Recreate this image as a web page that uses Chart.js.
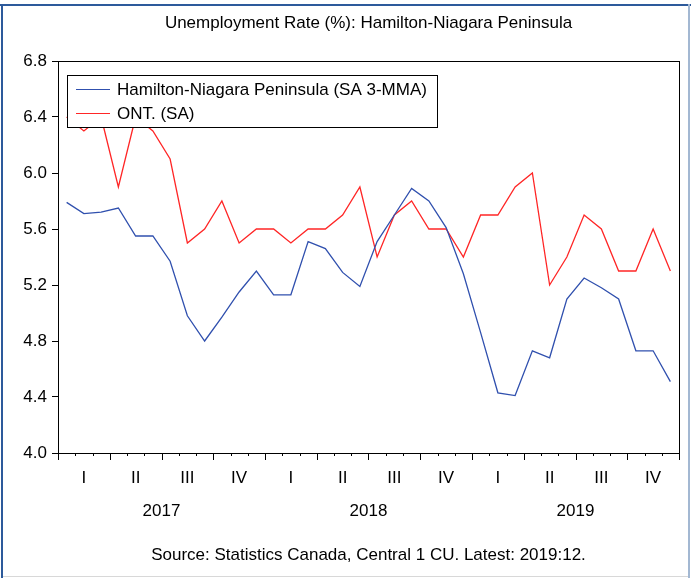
<!DOCTYPE html>
<html>
<head>
<meta charset="utf-8">
<script src="https://cdn.jsdelivr.net/npm/chart.js@4.4.1/dist/chart.umd.min.js"></script>
<style>
  html, body { margin: 0; padding: 0; background: #fff; }
</style>
</head>
<body>
<canvas id="myChart" width="691" height="578"></canvas>
<script>
// monthly observations, 2017:01 - 2019:12
var months = [
  "2017:01", "2017:02", "2017:03", "2017:04", "2017:05", "2017:06",
  "2017:07", "2017:08", "2017:09", "2017:10", "2017:11", "2017:12",
  "2018:01", "2018:02", "2018:03", "2018:04", "2018:05", "2018:06",
  "2018:07", "2018:08", "2018:09", "2018:10", "2018:11", "2018:12",
  "2019:01", "2019:02", "2019:03", "2019:04", "2019:05", "2019:06",
  "2019:07", "2019:08", "2019:09", "2019:10", "2019:11", "2019:12"
];
var quarterLabels = ["I", "II", "III", "IV"];
var yearLabels = ["2017", "2018", "2019"];
var yTicks = [4.0, 4.4, 4.8, 5.2, 5.6, 6.0, 6.4, 6.8];

var hamilton = [
  5.79, 5.71, 5.72, 5.75, 5.55, 5.55, 5.37, 4.98, 4.80, 4.97, 5.15, 5.30,
  5.13, 5.13, 5.51, 5.46, 5.29, 5.19, 5.51, 5.70, 5.89, 5.80, 5.61, 5.28,
  4.86, 4.43, 4.41, 4.73, 4.68, 5.10, 5.25, 5.18, 5.10, 4.73, 4.73, 4.51
];
var ontario = [
  6.4, 6.3, 6.4, 5.9, 6.4, 6.3, 6.1, 5.5, 5.6, 5.8, 5.5, 5.6,
  5.6, 5.5, 5.6, 5.6, 5.7, 5.9, 5.4, 5.7, 5.8, 5.6, 5.6, 5.4,
  5.7, 5.7, 5.9, 6.0, 5.2, 5.4, 5.7, 5.6, 5.3, 5.3, 5.6, 5.3
];

var titleText = "Unemployment Rate (%): Hamilton-Niagara Peninsula";
var sourceText = "Source: Statistics Canada, Central 1 CU. Latest: 2019:12.";
var fontFamily = "'Liberation Sans', Arial, sans-serif";

// frame, box, quarter/year axis, legend and texts
var extras = {
  id: "extras",
  beforeDraw: function (chart) {
    var ctx = chart.ctx;
    ctx.save();
    ctx.fillStyle = "#fff";
    ctx.fillRect(0, 0, chart.width, chart.height);
    ctx.fillStyle = "#2d5a9b";
    ctx.fillRect(0, 4, chart.width, 2);
    ctx.fillRect(1, 4, 2, chart.height - 4);
    ctx.fillStyle = "#a3b8d2";
    ctx.fillRect(688, 4, 2, chart.height - 4);
    ctx.fillStyle = "#d8d8d8";
    ctx.fillRect(3, chart.height - 2, 685, 1);
    ctx.restore();
  },
  afterDraw: function (chart) {
    var ctx = chart.ctx;
    var area = chart.chartArea;
    var x = chart.scales.x;
    var step = x.getPixelForValue(1) - x.getPixelForValue(0);
    var midX = (area.left + area.right) / 2;
    ctx.save();

    // plot box
    ctx.strokeStyle = "#000";
    ctx.lineWidth = 1;
    ctx.strokeRect(Math.round(area.left) + 0.5, Math.round(area.top) + 0.5,
      Math.round(area.right - area.left), Math.round(area.bottom - area.top));

    // month ticks, longer at quarter boundaries
    ctx.beginPath();
    for (var i = 0; i <= months.length; i++) {
      var px = Math.round(x.getPixelForValue(i) - step / 2) + 0.5;
      var len = i % 3 === 0 ? 7 : 3;
      ctx.moveTo(px, area.bottom);
      ctx.lineTo(px, area.bottom + len);
    }
    ctx.stroke();

    ctx.fillStyle = "#000";
    ctx.font = "17px " + fontFamily;
    ctx.textAlign = "center";
    ctx.textBaseline = "middle";

    // quarters
    for (var q = 0; q < months.length / 3; q++) {
      ctx.fillText(quarterLabels[q % 4], x.getPixelForValue(q * 3 + 1), 478);
    }
    // years
    for (var y = 0; y < yearLabels.length; y++) {
      ctx.fillText(yearLabels[y], x.getPixelForValue(y * 12 + 5) + step / 2, 511);
    }

    // title and source
    ctx.fillText(titleText, midX, 23);
    ctx.fillText(sourceText, midX, 555);

    // legend
    var lx = 67.5, ly = 75.5, lw = 370, lh = 52;
    ctx.fillStyle = "#fff";
    ctx.fillRect(lx, ly, lw, lh);
    ctx.strokeStyle = "#000";
    ctx.strokeRect(lx, ly, lw, lh);
    ctx.textAlign = "left";
    chart.data.datasets.forEach(function (ds, k) {
      var ry = 89.5 + k * 24;
      ctx.strokeStyle = ds.borderColor;
      ctx.lineWidth = 1.2;
      ctx.beginPath();
      ctx.moveTo(76, ry);
      ctx.lineTo(110, ry);
      ctx.stroke();
      ctx.fillStyle = "#000";
      ctx.fillText(ds.label, 117, ry + 0.5);
    });
    ctx.restore();
  }
};

var ctx = document.getElementById("myChart").getContext("2d");
var chart = new Chart(ctx, {
  type: "line",
  data: {
    labels: months,
    datasets: [
      {
        label: "Hamilton-Niagara Peninsula (SA 3-MMA)",
        data: hamilton,
        borderColor: "#3050ae",
        borderWidth: 1.3,
        pointRadius: 0,
        tension: 0
      },
      {
        label: "ONT. (SA)",
        data: ontario,
        borderColor: "#ff2626",
        borderWidth: 1.3,
        pointRadius: 0,
        tension: 0
      }
    ]
  },
  options: {
    responsive: false,
    animation: false,
    layout: { padding: { left: 0, right: 12, top: 61, bottom: 0 } },
    plugins: {
      legend: { display: false },
      tooltip: { enabled: false }
    },
    scales: {
      x: {
        offset: true,
        ticks: { display: false },
        grid: { display: false },
        border: { color: "#000" },
        afterFit: function (s) { s.height = 125; }
      },
      y: {
        min: 4.0,
        max: 6.8,
        afterBuildTicks: function (s) {
          s.ticks = yTicks.map(function (v) { return { value: v }; });
        },
        ticks: {
          color: "#000",
          padding: 5,
          font: { size: 17, family: fontFamily },
          callback: function (v) { return Number(v).toFixed(1); }
        },
        grid: { drawOnChartArea: false, tickLength: 6, color: "#000" },
        border: { color: "#000" },
        afterFit: function (s) { s.width = 58; }
      }
    }
  },
  plugins: [extras]
});
</script>
</body>
</html>
